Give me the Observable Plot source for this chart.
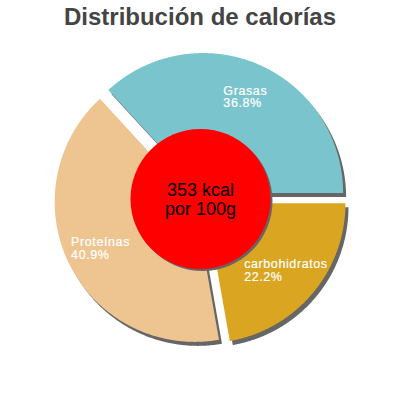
<!DOCTYPE html>
<html><head><meta charset="utf-8">
<script src="https://cdn.jsdelivr.net/npm/d3@7"></script>
<script src="https://cdn.jsdelivr.net/npm/@observablehq/plot@0.6"></script>
<style>
body{margin:0;background:#fff;}
#wrap{position:relative;width:400px;height:400px;overflow:hidden;}
#title{position:absolute;top:5px;left:0;width:400px;text-align:center;font:bold 24px/24px "Liberation Sans",Arial,sans-serif;color:#444;z-index:2;}
#chart{position:absolute;top:0;left:0;}
#chart g[fill="white"] text{letter-spacing:0.6px;}
</style></head><body>
<div id="wrap"><div id="title">Distribución de calorías</div><div id="chart"></div></div>
<script>
const categories = ["carbohidratos", "Proteínas", "Grasas"];
const percents = [22.2, 40.9, 36.8];
const colors = ["#DAA520", "#EEC591", "#7AC5CD"];
const energyKcal = 353;
const centerLines = [`${energyKcal} kcal`, "por 100g"];

const R = 140, explode = 6.5, holeR = 70, startAngle = Math.PI / 2;
const FONT = '"Liberation Sans", Arial, sans-serif';
const LS = 0.6, LABEL_SIZE = 12.5;

const ctx = document.createElement("canvas").getContext("2d");
ctx.font = `${LABEL_SIZE}px ${FONT}`;
const measure = (s) => ctx.measureText(s).width + LS * s.length;

const arcs = d3.pie().sort(null).startAngle(startAngle).endAngle(startAngle + 2 * Math.PI)(percents);
const polys = [];
const labelRows = [];
arcs.forEach((a, i) => {
  const mid = (a.startAngle + a.endAngle) / 2;
  const ox = explode * Math.sin(mid), oy = -explode * Math.cos(mid);
  polys.push({name: categories[i], x: ox, y: oy});
  const n = Math.max(2, Math.ceil((a.endAngle - a.startAngle) / 0.005));
  for (let k = 0; k <= n; k++) {
    const t = a.startAngle + (a.endAngle - a.startAngle) * k / n;
    polys.push({name: categories[i], x: ox + R * Math.sin(t), y: oy - R * Math.cos(t)});
  }
  const rl = (holeR + R) / 2;
  const line1 = categories[i], line2 = `${percents[i].toFixed(1)}%`;
  const w = Math.max(measure(line1), measure(line2));
  labelRows.push({x: ox + rl * Math.sin(mid) - w / 2, y: oy - rl * Math.cos(mid), text: `${line1}\n${line2}`});
});

const chart = Plot.plot({
  width: 400, height: 400, margin: 0,
  x: {domain: [-200, 200], range: [0, 400], axis: null},
  y: {domain: [-198.5, 201.5], range: [0, 400], axis: null},
  color: {domain: categories, range: colors},
  marks: [
    Plot.line(polys, {x: "x", y: "y", z: "name", fill: "#666", stroke: "none", curve: "linear-closed", dx: 3, dy: 4}),
    Plot.line(polys, {x: "x", y: "y", z: "name", fill: "name", stroke: "none", curve: "linear-closed"}),
    Plot.dot([{x: 0, y: 0}], {x: "x", y: "y", r: holeR, fill: "#666", stroke: "none", dx: 2, dy: 2}),
    Plot.dot([{x: 0, y: 0}], {x: "x", y: "y", r: holeR, fill: "#ff0000", stroke: "none"}),
    Plot.text([{x: 0, y: 0}], {x: "x", y: "y", text: () => centerLines.join("\n"), fontSize: 18, fontFamily: FONT, fill: "black", lineAnchor: "middle", lineHeight: 1.05}),
    Plot.text(labelRows, {x: "x", y: "y", text: "text", textAnchor: "start", lineAnchor: "middle", lineHeight: 1.0, fontSize: LABEL_SIZE, fontFamily: FONT, fill: "white", stroke: "white", strokeWidth: 0.2})
  ]
});
document.getElementById("chart").appendChild(chart);
</script>
</body></html>
